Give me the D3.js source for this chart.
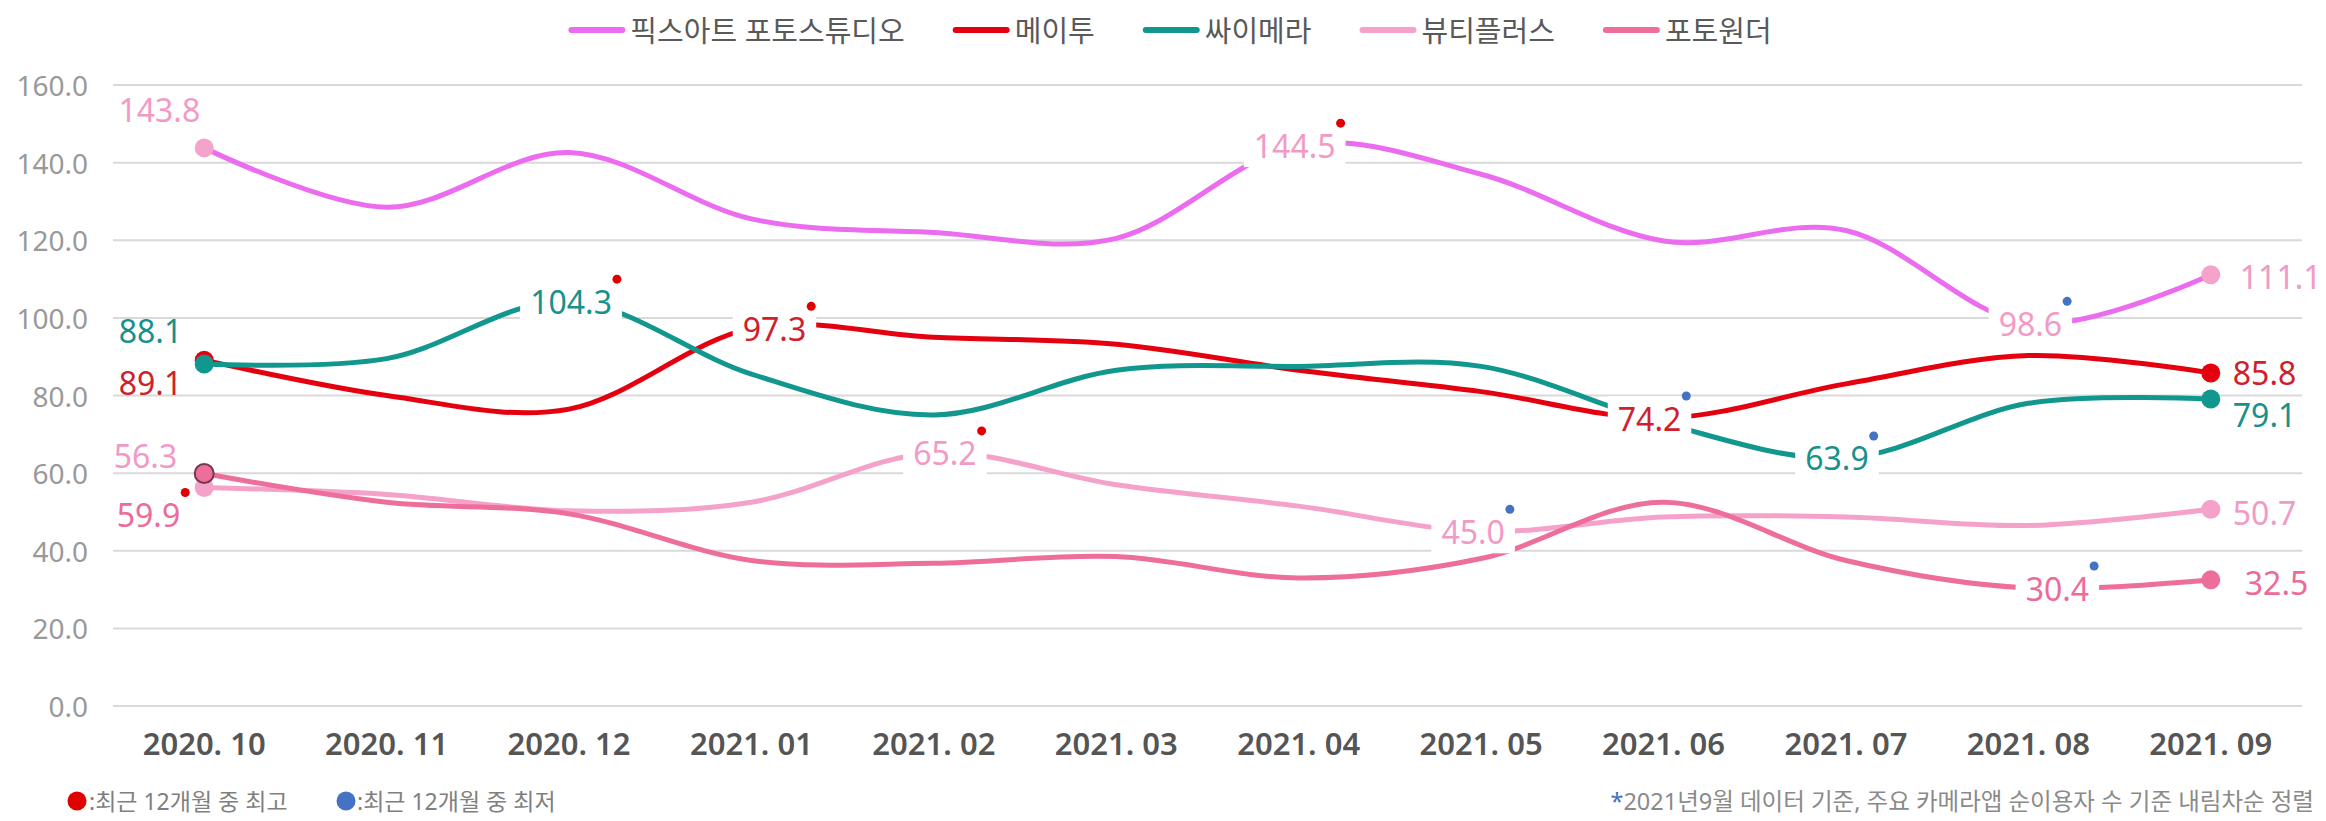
<!DOCTYPE html>

<head>
    <meta charset="UTF-8">
    <script src="https://d3js.org/d3.v7.min.js"></script>
    <style>
        body {
            margin: 0;
            background: #fff;
        }

        svg text {
            font-family: "Noto Sans", "Noto Sans CJK KR", sans-serif;
        }
    </style>
</head>

<body>
    <div id="viz"></div>
    <script>
        // categories
        const months = ["2020. 10", "2020. 11", "2020. 12", "2021. 01", "2021. 02", "2021. 03",
            "2021. 04", "2021. 05", "2021. 06", "2021. 07", "2021. 08", "2021. 09"];
        const seriesNames = ["픽스아트 포토스튜디오", "메이투", "싸이메라", "뷰티플러스", "포토원더"];

        // series values
        const picsartValues = [143.8, 128.5, 142.6, 125.5, 122.0, 120.5, 144.5, 137.0, 119.8, 122.5, 98.6, 111.1];
        const meituValues = [89.1, 80.0, 76.5, 97.3, 95.0, 93.2, 86.5, 81.0, 74.2, 83.0, 90.3, 85.8];
        const cymeraValues = [88.1, 89.5, 104.3, 85.5, 75.0, 86.5, 87.5, 87.5, 72.8, 63.9, 78.0, 79.1];
        const beautyplusValues = [56.3, 54.5, 50.3, 52.5, 65.2, 57.0, 51.5, 45.0, 48.7, 48.7, 46.5, 50.7];
        const photowonderValues = [59.9, 52.5, 49.5, 37.5, 36.8, 38.5, 33.0, 38.0, 52.5, 37.5, 30.4, 32.5];

        const yTicks = [0, 20, 40, 60, 80, 100, 120, 140, 160];

        const noteHigh = ":최근 12개월 중 최고";
        const noteLow = ":최근 12개월 중 최저";
        const noteRight = "2021년9월 데이터 기준, 주요 카메라앱 순이용자 수 기준 내림차순 정렬";

        // styling
        const lineColors = ["#EC6CF0", "#E5000F", "#12978F", "#F5A2CA", "#EE6E9B"];
        const labelColors = ["#F29AC6", "#D0202B", "#16918C", "#F29AC6", "#EC6B98"];
        const markerColors = ["#F6A3CB", "#E5000F", "#12978F", "#F5A2CA", "#EE6E9B"];
        const firstLabelPos = [[-4, -38], [-22, 22], [-22, -34], [-27, -32], [-24, 41]];
        const lastLabelPos = [[29, 2], [22, 0], [22, 16], [22, 3], [34, 3]];
        const maxLabelShift = [-4, 23, 2, 11, 0];
        const minLabelShift = [2, -14, -9, -8, 29];
        const highDot = "#E00000";
        const lowDot = "#4472C4";

        const allValues = [picsartValues, meituValues, cymeraValues, beautyplusValues, photowonderValues];

        const width = 2326;
        const height = 821;
        const plotLeft = 113, plotRight = 2302, plotTop = 85, plotBottom = 706;

        const svg = d3.select("#viz").append("svg")
            .attr("width", width)
            .attr("height", height);

        const x = d3.scalePoint()
            .domain(months)
            .range([plotLeft, plotRight])
            .padding(0.5);

        const y = d3.scaleLinear()
            .domain([0, 160])
            .range([plotBottom, plotTop]);

        // gridlines
        svg.append("g")
            .selectAll("line")
            .data(yTicks)
            .enter()
            .append("line")
            .attr("x1", plotLeft)
            .attr("x2", plotRight)
            .attr("y1", d => y(d))
            .attr("y2", d => y(d))
            .attr("stroke", "#d9d9d9")
            .attr("stroke-width", 2);

        // y axis labels
        svg.append("g")
            .selectAll("text")
            .data(yTicks)
            .enter()
            .append("text")
            .attr("x", 88)
            .attr("y", d => y(d))
            .attr("text-anchor", "end")
            .attr("dominant-baseline", "central")
            .attr("fill", "#999")
            .style("font-size", "28px")
            .text(d => d3.format(".1f")(d));

        // x axis labels
        svg.append("g")
            .selectAll("text")
            .data(months)
            .enter()
            .append("text")
            .attr("x", d => x(d))
            .attr("y", 743)
            .attr("text-anchor", "middle")
            .attr("dominant-baseline", "central")
            .attr("fill", "#555")
            .style("font-size", "31px")
            .style("font-weight", "600")
            .text(d => d);

        // lines
        const line = d3.line()
            .x((d, i) => x(months[i]))
            .y(d => y(d))
            .curve(d3.curveCardinal.tension(0));

        svg.append("g")
            .selectAll("path")
            .data(allValues)
            .enter()
            .append("path")
            .attr("d", d => line(d))
            .attr("fill", "none")
            .attr("stroke", (d, i) => lineColors[i])
            .attr("stroke-width", 5)
            .attr("stroke-linejoin", "round");

        // markers on first and last point
        const markerG = svg.append("g");
        allValues.forEach((vals, i) => {
            [0, vals.length - 1].forEach(k => {
                markerG.append("circle")
                    .attr("cx", x(months[k]))
                    .attr("cy", y(vals[k]))
                    .attr("r", 9.5)
                    .attr("fill", markerColors[i])
                    .attr("stroke", (i === 4 && k === 0) ? "#74394f" : "none")
                    .attr("stroke-width", 2);
            });
        });

        // labels
        const labelG = svg.append("g");

        function addLabel(px, py, txt, color, anchor, boxed, dot) {
            const g = labelG.append("g");
            const t = g.append("text")
                .attr("x", px)
                .attr("y", py)
                .attr("text-anchor", anchor)
                .attr("dominant-baseline", "central")
                .attr("fill", color)
                .style("font-size", "32px")
                .text(txt);
            const bb = t.node().getBBox();
            if (boxed) {
                g.insert("rect", "text")
                    .attr("x", bb.x - 10)
                    .attr("y", py - 22)
                    .attr("width", bb.width + 20)
                    .attr("height", 44)
                    .attr("fill", "#fff");
            }
            if (dot) {
                g.append("circle")
                    .attr("cx", bb.x + bb.width + 5)
                    .attr("cy", py - 22)
                    .attr("r", 4.5)
                    .attr("fill", dot);
            }
        }

        allValues.forEach((vals, i) => {
            const last = vals.length - 1;
            const iMax = d3.maxIndex(vals);
            const iMin = d3.minIndex(vals);
            const fmt = d3.format(".1f");
            const dotFor = k => k === iMax ? highDot : (k === iMin ? lowDot : null);

            addLabel(x(months[0]) + firstLabelPos[i][0], y(vals[0]) + firstLabelPos[i][1],
                fmt(vals[0]), labelColors[i], "end", false, dotFor(0));
            addLabel(x(months[last]) + lastLabelPos[i][0], y(vals[last]) + lastLabelPos[i][1],
                fmt(vals[last]), labelColors[i], "start", false, dotFor(last));

            if (iMax !== 0 && iMax !== last) {
                addLabel(x(months[iMax]) + maxLabelShift[i], y(vals[iMax]),
                    fmt(vals[iMax]), labelColors[i], "middle", true, highDot);
            }
            if (iMin !== 0 && iMin !== last) {
                addLabel(x(months[iMin]) + minLabelShift[i], y(vals[iMin]),
                    fmt(vals[iMin]), labelColors[i], "middle", true, lowDot);
            }
        });

        // legend
        const legend = svg.append("g");
        let lx = 0;
        seriesNames.forEach((name, i) => {
            const g = legend.append("g");
            g.append("line")
                .attr("x1", 3).attr("x2", 54)
                .attr("y1", 0).attr("y2", 0)
                .attr("stroke", lineColors[i])
                .attr("stroke-width", 6)
                .attr("stroke-linecap", "round");
            const t = g.append("text")
                .attr("x", 62)
                .attr("y", 0)
                .attr("dominant-baseline", "central")
                .attr("fill", "#595959")
                .style("font-size", "29px")
                .text(name);
            const w = 62 + t.node().getComputedTextLength();
            g.attr("transform", `translate(${lx},0)`);
            lx += w + 48;
        });
        const legendW = lx - 48;
        legend.attr("transform", `translate(${1170 - legendW / 2},30)`);

        // bottom notes
        const noteY = 801;
        const notes = svg.append("g").style("font-size", "23px");
        notes.append("circle").attr("cx", 77).attr("cy", noteY).attr("r", 9.5).attr("fill", highDot);
        notes.append("text").attr("x", 89).attr("y", noteY).attr("dominant-baseline", "central")
            .attr("fill", "#7f7f7f").text(noteHigh);
        notes.append("circle").attr("cx", 346).attr("cy", noteY).attr("r", 9.5).attr("fill", lowDot);
        notes.append("text").attr("x", 357).attr("y", noteY).attr("dominant-baseline", "central")
            .attr("fill", "#7f7f7f").text(noteLow);

        const rt = notes.append("text").attr("x", 2314).attr("y", noteY)
            .attr("text-anchor", "end").attr("dominant-baseline", "central")
            .attr("fill", "#8a8a8a")
            .style("font-size", "23.5px");
        rt.append("tspan").attr("fill", lowDot).text("*");
        rt.append("tspan").text(noteRight);
    </script>
</body>

</html>
